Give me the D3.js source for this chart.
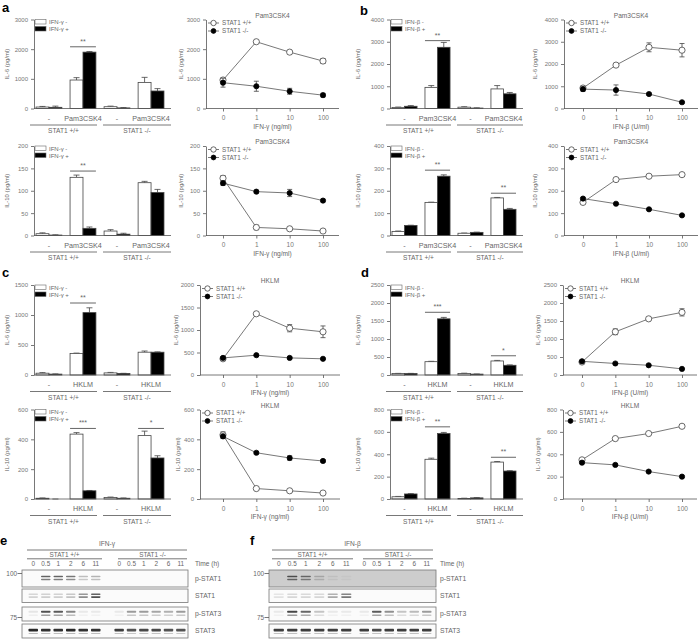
<!DOCTYPE html>
<html><head><meta charset="utf-8">
<script src="https://cdn.jsdelivr.net/npm/d3@7"></script>
<style>body{margin:0;background:#fff}svg{display:block}</style>
</head><body><svg id="fig" width="700" height="640"></svg>
<script>
// ---------------- DATA ----------------
const groupsPam = ["-", "Pam3CSK4", "-", "Pam3CSK4"];
const groupsHKLM = ["-", "HKLM", "-", "HKLM"];
const genotypes = ["STAT1 +/+", "STAT1 -/-"];
const doses = ["0", "1", "10", "100"];
const lineLegend = ["STAT1 +/+", "STAT1 -/-"];
const legendG = ["IFN-\u03b3 -", "IFN-\u03b3 +"];
const legendB = ["IFN-\u03b2 -", "IFN-\u03b2 +"];

// panel a
const aIL6Minus = [50, 960, 60, 880], aIL6MinusSd = [20, 80, 20, 170];
const aIL6Plus = [40, 1900, 20, 590], aIL6PlusSd = [40, 20, 10, 80];
const aIL10Minus = [4, 130, 10, 118], aIL10MinusSd = [2, 5, 3, 3];
const aIL10Plus = [1, 16, 3, 96], aIL10PlusSd = [0.5, 3, 2, 7];
const aIL6LineWT = [960, 2250, 1900, 1600], aIL6LineWTSd = [60, 40, 50, 80];
const aIL6LineKO = [870, 750, 580, 450], aIL6LineKOSd = [150, 170, 100, 60];
const aIL10LineWT = [128, 18, 15, 10], aIL10LineWTSd = [6, 5, 2, 2];
const aIL10LineKO = [117, 98, 95, 78], aIL10LineKOSd = [5, 3, 8, 3];
// panel b
const bIL6Minus = [50, 950, 60, 880], bIL6MinusSd = [15, 80, 20, 150];
const bIL6Plus = [100, 2750, 20, 660], bIL6PlusSd = [30, 220, 10, 60];
const bIL10Minus = [18, 148, 10, 168], bIL10MinusSd = [2, 1, 1, 2];
const bIL10Plus = [45, 265, 14, 117], bIL10PlusSd = [1, 6, 1, 4];
const bIL6LineWT = [920, 1950, 2750, 2620], bIL6LineWTSd = [80, 40, 200, 300];
const bIL6LineKO = [870, 830, 650, 280], bIL6LineKOSd = [100, 230, 50, 40];
const bIL10LineWT = [148, 250, 265, 272], bIL10LineWTSd = [6, 4, 5, 5];
const bIL10LineKO = [165, 142, 117, 90], bIL10LineKOSd = [5, 3, 4, 3];
// panel c
const cIL6Minus = [30, 360, 35, 380], cIL6MinusSd = [10, 5, 8, 20];
const cIL6Plus = [15, 1040, 25, 380], cIL6PlusSd = [3, 80, 3, 5];
const cIL10Minus = [5, 435, 10, 425], cIL10MinusSd = [2, 10, 3, 30];
const cIL10Plus = [0, 55, 5, 275], cIL10PlusSd = [0, 2, 2, 15];
const cIL6LineWT = [360, 1360, 1040, 960], cIL6LineWTSd = [30, 20, 80, 130];
const cIL6LineKO = [380, 440, 380, 360], cIL6LineKOSd = [20, 15, 15, 15];
const cIL10LineWT = [430, 70, 55, 40], cIL10LineWTSd = [20, 5, 5, 5];
const cIL10LineKO = [420, 310, 275, 255], cIL10LineKOSd = [15, 8, 15, 8];
// panel d
const dIL6Minus = [40, 370, 40, 390], dIL6MinusSd = [5, 10, 10, 15];
const dIL6Plus = [40, 1560, 25, 270], dIL6PlusSd = [5, 40, 3, 10];
const dIL10Minus = [20, 355, 5, 330], dIL10MinusSd = [3, 10, 2, 5];
const dIL10Plus = [45, 585, 10, 250], dIL10PlusSd = [3, 10, 2, 3];
const dIL6LineWT = [360, 1200, 1560, 1740], dIL6LineWTSd = [40, 80, 30, 100];
const dIL6LineKO = [380, 320, 270, 170], dIL6LineKOSd = [15, 15, 15, 10];
const dIL10LineWT = [350, 540, 585, 650], dIL10LineWTSd = [10, 8, 8, 8];
const dIL10LineKO = [325, 305, 245, 200], dIL10LineKOSd = [8, 8, 8, 8];

// blots
const timeLanes = ["0", "0.5", "1", "2", "6", "11"];
const blotRows = ["p-STAT1", "STAT1", "p-STAT3", "STAT3"];
const eBlotWT = [[0, 0.75, 0.75, 0.65, 0.3, 0.35], [0.2, 0.22, 0.22, 0.28, 0.55, 0.85], [0.1, 0.8, 0.75, 0.55, 0.08, 0.08], [0.95, 0.9, 0.9, 0.95, 0.9, 0.9]];
const eBlotKO = [[0, 0, 0, 0, 0, 0], [0, 0, 0, 0, 0, 0], [0.08, 0.45, 0.45, 0.4, 0.35, 0.45], [0.85, 0.75, 0.8, 0.8, 0.75, 0.75]];
const fBlotWT = [[0, 0.8, 0.65, 0.25, 0.08, 0.04], [0.12, 0.18, 0.18, 0.18, 0.4, 0.65], [0.08, 0.85, 0.7, 0.25, 0.08, 0.08], [0.85, 0.85, 0.85, 0.85, 0.85, 0.85]];
const fBlotKO = [[0, 0, 0, 0, 0, 0], [0, 0, 0, 0, 0, 0], [0.08, 0.75, 0.5, 0.25, 0.3, 0.45], [0.85, 0.8, 0.85, 0.85, 0.85, 0.85]];
const mwMarkers = ["100", "75"];

// ---------------- DRAWING ----------------
const FONT = '"Liberation Sans", Arial, Helvetica, sans-serif';
const TXT = "#666", AX = "#555", TICK = "#777";
const svg = d3.select("#fig").attr("font-family", FONT);
svg.append("rect").attr("width", 700).attr("height", 640).attr("fill", "#fff");
const defs = svg.append("defs");
defs.append("filter").attr("id", "blur").attr("x", "-30%").attr("y", "-200%").attr("width", "160%").attr("height", "500%")
  .append("feGaussianBlur").attr("stdDeviation", 0.7);
const fmt = d3.format("d");

function styleAxis(sel) {
  sel.attr("font-family", FONT).attr("font-size", 6);
  sel.select(".domain").attr("stroke", AX).attr("stroke-width", 0.8);
  sel.selectAll(".tick line").attr("stroke", AX).attr("stroke-width", 0.8);
  sel.selectAll(".tick text").attr("fill", TICK);
}

function barChart(o) {
  const g = svg.append("g");
  const y = d3.scaleLinear().domain([0, o.max]).range([o.yBot, o.yTop]);
  const x = d3.scaleBand().domain(d3.range(o.groups.length)).range([o.ax + 1, o.xEnd - 6]).paddingInner(0.24).paddingOuter(0.03);
  const bw = x.bandwidth() / 2;
  g.append("g").attr("transform", `translate(${o.ax},0)`)
    .call(d3.axisLeft(y).tickValues(o.ticks).tickFormat(fmt).tickSize(3).tickSizeOuter(0)).call(styleAxis);
  const rows = [];
  o.groups.forEach((c, i) => {
    rows.push({ i, k: 0, v: o.minus[i], sd: o.minusSd[i] });
    rows.push({ i, k: 1, v: o.plus[i], sd: o.plusSd[i] });
  });
  const cx = d => x(d.i) + bw * d.k + bw / 2;
  const bars = g.selectAll(".bar").data(rows).join("g");
  bars.append("line").attr("x1", cx).attr("x2", cx).attr("y1", d => y(d.v)).attr("y2", d => y(d.v + d.sd))
    .attr("stroke", "#444").attr("stroke-width", 0.8);
  bars.append("line").attr("x1", d => cx(d) - 3).attr("x2", d => cx(d) + 3).attr("y1", d => y(d.v + d.sd)).attr("y2", d => y(d.v + d.sd))
    .attr("stroke", "#444").attr("stroke-width", 0.8);
  bars.append("rect").attr("x", d => x(d.i) + bw * d.k).attr("y", d => y(d.v)).attr("width", bw)
    .attr("height", d => y(0) - y(d.v)).attr("fill", d => d.k ? "#000" : "#fff").attr("stroke", "#444").attr("stroke-width", 0.8);
  g.append("line").attr("x1", o.ax).attr("x2", o.xEnd).attr("y1", y(0)).attr("y2", y(0)).attr("stroke", AX).attr("stroke-width", 0.8);
  g.selectAll(".cat").data(o.groups).join("text").attr("x", (d, i) => x(i) + x.bandwidth() / 2).attr("y", o.yBot + 12)
    .attr("text-anchor", "middle").attr("font-size", 7.2).attr("fill", TXT).text(d => d);
  const mid = (x(1) + x.bandwidth() + x(2)) / 2;
  const spans = [[o.ax - 4, mid - 3], [mid + 3, o.xEnd]];
  g.selectAll(".gl").data(spans).join("line").attr("x1", d => d[0]).attr("x2", d => d[1])
    .attr("y1", o.yBot + 16.5).attr("y2", o.yBot + 16.5).attr("stroke", "#555").attr("stroke-width", 0.8);
  g.selectAll(".gt").data(spans).join("text").attr("x", d => (d[0] + d[1]) / 2).attr("y", o.yBot + 24.5)
    .attr("text-anchor", "middle").attr("font-size", 6.6).attr("fill", TXT).text((d, j) => genotypes[j]);
  o.legend.forEach((t, k) => {
    g.append("rect").attr("x", o.ax + 1).attr("y", o.yTop + k * 7).attr("width", 11).attr("height", 4.5)
      .attr("fill", k ? "#000" : "#fff").attr("stroke", "#666").attr("stroke-width", 0.6);
    g.append("text").attr("x", o.ax + 15).attr("y", o.yTop + 4.6 + k * 7).attr("font-size", 6).attr("fill", TXT).text(t);
  });
  g.append("text").attr("transform", `translate(${o.ylx},${(o.yTop + o.yBot) / 2}) rotate(-90)`)
    .attr("text-anchor", "middle").attr("font-size", 6).attr("fill", TXT).text(o.ylabel);
  o.sig.forEach(s => {
    g.append("line").attr("x1", x(s.g)).attr("x2", x(s.g) + x.bandwidth()).attr("y1", y(s.v)).attr("y2", y(s.v))
      .attr("stroke", "#555").attr("stroke-width", 0.9);
    g.append("text").attr("x", x(s.g) + x.bandwidth() / 2).attr("y", y(s.v) - 3).attr("text-anchor", "middle")
      .attr("font-size", 7).attr("fill", TXT).text(s.t);
  });
}

function lineChart(o) {
  const g = svg.append("g");
  const y = d3.scaleLinear().domain([0, o.max]).range([o.yBot, o.yTop]);
  const x = d3.scalePoint().domain(doses).range([o.p0, o.p3]);
  g.append("g").attr("transform", `translate(${o.ax},0)`)
    .call(d3.axisLeft(y).tickValues(o.ticks).tickFormat(fmt).tickSize(3).tickSizeOuter(0)).call(styleAxis);
  const xa = g.append("g").attr("transform", `translate(0,${o.yBot})`)
    .call(d3.axisBottom(x).tickSize(3).tickSizeOuter(0)).call(styleAxis);
  xa.select(".domain").remove();
  xa.selectAll(".tick text").attr("font-size", 6.5).attr("dy", "0.9em");
  g.append("line").attr("x1", o.ax).attr("x2", o.xEnd).attr("y1", o.yBot).attr("y2", o.yBot).attr("stroke", AX).attr("stroke-width", 0.8);
  g.append("text").attr("x", (o.ax + o.xEnd) / 2).attr("y", o.yBot + 20).attr("text-anchor", "middle")
    .attr("font-size", 6.6).attr("fill", TXT).text(o.xlabel);
  g.append("text").attr("x", (o.ax + o.xEnd) / 2).attr("y", o.yTop - 2).attr("text-anchor", "middle")
    .attr("font-size", 6.6).attr("fill", TXT).text(o.title);
  g.append("text").attr("transform", `translate(${o.ylx},${(o.yTop + o.yBot) / 2}) rotate(-90)`)
    .attr("text-anchor", "middle").attr("font-size", 6).attr("fill", TXT).text(o.ylabel);
  const series = [
    { vals: o.wt, sd: o.wtSd, open: true },
    { vals: o.ko, sd: o.koSd, open: false }
  ];
  const line = d3.line().x((d, i) => x(doses[i])).y(d => y(d));
  series.forEach(s => {
    const sg = g.append("g");
    sg.append("path").attr("d", line(s.vals)).attr("fill", "none").attr("stroke", "#555").attr("stroke-width", 0.8);
    const pts = s.vals.map((v, i) => ({ x: x(doses[i]), v, sd: s.sd[i] }));
    const eb = sg.selectAll(".eb").data(pts).join("g");
    eb.append("line").attr("x1", d => d.x).attr("x2", d => d.x).attr("y1", d => y(d.v - d.sd)).attr("y2", d => y(d.v + d.sd))
      .attr("stroke", "#444").attr("stroke-width", 0.8);
    [-1, 1].forEach(sg2 => eb.append("line").attr("x1", d => d.x - 2.5).attr("x2", d => d.x + 2.5)
      .attr("y1", d => y(d.v + sg2 * d.sd)).attr("y2", d => y(d.v + sg2 * d.sd)).attr("stroke", "#444").attr("stroke-width", 0.8));
    sg.selectAll(".pt").data(pts).join("circle").attr("cx", d => d.x).attr("cy", d => y(d.v))
      .attr("r", s.open ? 3.1 : 2.6).attr("fill", s.open ? "#fff" : "#000").attr("stroke", s.open ? "#444" : "#000").attr("stroke-width", 0.8);
  });
  lineLegend.forEach((t, k) => {
    const ly = o.yTop + 3.5 + k * 8;
    g.append("line").attr("x1", o.ax + 2).attr("x2", o.ax + 13).attr("y1", ly).attr("y2", ly).attr("stroke", "#555").attr("stroke-width", 0.8);
    g.append("circle").attr("cx", o.ax + 7.5).attr("cy", ly).attr("r", k ? 2.4 : 2.7)
      .attr("fill", k ? "#000" : "#fff").attr("stroke", k ? "#000" : "#444").attr("stroke-width", 0.8);
    g.append("text").attr("x", o.ax + 16).attr("y", ly + 2.2).attr("font-size", 6.3).attr("fill", TXT).text(t);
  });
}

const R1 = { yTop: 19.5, yBot: 108.5 }, R2 = { yTop: 146, yBot: 235.5 }, R3 = { yTop: 285, yBot: 375 }, R4 = { yTop: 409.5, yBot: 499 };
const L = { ax: 34, xEnd: 171, ylx: 9 }, Lb = { ax: 390, xEnd: 523, ylx: 360 };

// a
barChart({ ...L, ...R1, max: 3000, ticks: [0, 1000, 2000, 3000], groups: groupsPam, minus: aIL6Minus, minusSd: aIL6MinusSd, plus: aIL6Plus, plusSd: aIL6PlusSd, ylabel: "IL-6 (pg/ml)", legend: legendG, sig: [{ g: 1, v: 2080, t: "**" }] });
barChart({ ...L, ...R2, max: 200, ticks: [0, 50, 100, 150, 200], groups: groupsPam, minus: aIL10Minus, minusSd: aIL10MinusSd, plus: aIL10Plus, plusSd: aIL10PlusSd, ylabel: "IL-10 (pg/ml)", legend: legendG, sig: [{ g: 1, v: 144, t: "**" }] });
lineChart({ ax: 206, xEnd: 339, p0: 223, p3: 323, ylx: 183, ...R1, max: 3000, ticks: [0, 1000, 2000, 3000], wt: aIL6LineWT, wtSd: aIL6LineWTSd, ko: aIL6LineKO, koSd: aIL6LineKOSd, title: "Pam3CSK4", xlabel: "IFN-\u03b3 (ng/ml)", ylabel: "IL-6 (pg/ml)" });
lineChart({ ax: 206, xEnd: 339, p0: 223, p3: 323, ylx: 183, ...R2, max: 200, ticks: [0, 50, 100, 150, 200], wt: aIL10LineWT, wtSd: aIL10LineWTSd, ko: aIL10LineKO, koSd: aIL10LineKOSd, title: "Pam3CSK4", xlabel: "IFN-\u03b3 (ng/ml)", ylabel: "IL-10 (pg/ml)" });
// b
barChart({ ...Lb, ...R1, max: 4000, ticks: [0, 1000, 2000, 3000, 4000], groups: groupsPam, minus: bIL6Minus, minusSd: bIL6MinusSd, plus: bIL6Plus, plusSd: bIL6PlusSd, ylabel: "IL-6 (pg/ml)", legend: legendB, sig: [{ g: 1, v: 3050, t: "**" }] });
barChart({ ...Lb, ...R2, max: 400, ticks: [0, 100, 200, 300, 400], groups: groupsPam, minus: bIL10Minus, minusSd: bIL10MinusSd, plus: bIL10Plus, plusSd: bIL10PlusSd, ylabel: "IL-10 (pg/ml)", legend: legendB, sig: [{ g: 1, v: 292, t: "**" }, { g: 3, v: 189, t: "**" }] });
lineChart({ ax: 564, xEnd: 698, p0: 583, p3: 682, ylx: 537, ...R1, max: 4000, ticks: [0, 1000, 2000, 3000, 4000], wt: bIL6LineWT, wtSd: bIL6LineWTSd, ko: bIL6LineKO, koSd: bIL6LineKOSd, title: "Pam3CSK4", xlabel: "IFN-\u03b2 (U/ml)", ylabel: "IL-6 (pg/ml)" });
lineChart({ ax: 564, xEnd: 698, p0: 583, p3: 682, ylx: 537, ...R2, max: 400, ticks: [0, 100, 200, 300, 400], wt: bIL10LineWT, wtSd: bIL10LineWTSd, ko: bIL10LineKO, koSd: bIL10LineKOSd, title: "Pam3CSK4", xlabel: "IFN-\u03b2 (U/ml)", ylabel: "IL-10 (pg/ml)" });
// c
barChart({ ...L, ...R3, max: 1500, ticks: [0, 500, 1000, 1500], groups: groupsHKLM, minus: cIL6Minus, minusSd: cIL6MinusSd, plus: cIL6Plus, plusSd: cIL6PlusSd, ylabel: "IL-6 (pg/ml)", legend: legendG, sig: [{ g: 1, v: 1200, t: "**" }] });
barChart({ ...L, ...R4, max: 600, ticks: [0, 200, 400, 600], groups: groupsHKLM, minus: cIL10Minus, minusSd: cIL10MinusSd, plus: cIL10Plus, plusSd: cIL10PlusSd, ylabel: "IL-10 (pg/ml)", legend: legendG, sig: [{ g: 1, v: 473, t: "***" }, { g: 3, v: 473, t: "*" }] });
lineChart({ ax: 200, xEnd: 340, p0: 223, p3: 323, ylx: 178, ...R3, max: 2000, ticks: [0, 500, 1000, 1500, 2000], wt: cIL6LineWT, wtSd: cIL6LineWTSd, ko: cIL6LineKO, koSd: cIL6LineKOSd, title: "HKLM", xlabel: "IFN-\u03b3 (ng/ml)", ylabel: "IL-6 (pg/ml)" });
lineChart({ ax: 200, xEnd: 340, p0: 223, p3: 323, ylx: 180, ...R4, max: 600, ticks: [0, 200, 400, 600], wt: cIL10LineWT, wtSd: cIL10LineWTSd, ko: cIL10LineKO, koSd: cIL10LineKOSd, title: "HKLM", xlabel: "IFN-\u03b3 (ng/ml)", ylabel: "IL-10 (pg/ml)" });
// d
barChart({ ...Lb, ...R3, max: 2500, ticks: [0, 500, 1000, 1500, 2000, 2500], groups: groupsHKLM, minus: dIL6Minus, minusSd: dIL6MinusSd, plus: dIL6Plus, plusSd: dIL6PlusSd, ylabel: "IL-6 (pg/ml)", legend: legendB, sig: [{ g: 1, v: 1742, t: "***" }, { g: 3, v: 534, t: "*" }] });
barChart({ ...Lb, ...R4, max: 800, ticks: [0, 200, 400, 600, 800], groups: groupsHKLM, minus: dIL10Minus, minusSd: dIL10MinusSd, plus: dIL10Plus, plusSd: dIL10PlusSd, ylabel: "IL-10 (pg/ml)", legend: legendB, sig: [{ g: 1, v: 645, t: "**" }, { g: 3, v: 373, t: "**" }] });
lineChart({ ax: 563, xEnd: 697, p0: 582, p3: 682, ylx: 540, ...R3, max: 2500, ticks: [0, 500, 1000, 1500, 2000, 2500], wt: dIL6LineWT, wtSd: dIL6LineWTSd, ko: dIL6LineKO, koSd: dIL6LineKOSd, title: "HKLM", xlabel: "IFN-\u03b2 (U/ml)", ylabel: "IL-6 (pg/ml)" });
lineChart({ ax: 563, xEnd: 697, p0: 582, p3: 682, ylx: 540, ...R4, max: 800, ticks: [0, 200, 400, 600, 800], wt: dIL10LineWT, wtSd: dIL10LineWTSd, ko: dIL10LineKO, koSd: dIL10LineKOSd, title: "HKLM", xlabel: "IFN-\u03b2 (U/ml)", ylabel: "IL-10 (pg/ml)" });

// blots
function blot(o) {
  const g = svg.append("g");
  const xw = d3.scaleBand().domain(timeLanes).range(o.wtRange);
  const xk = d3.scaleBand().domain(timeLanes).range(o.koRange);
  const hx0 = o.wtRange[0], hx1 = o.koRange[1];
  g.append("text").attr("x", (hx0 + hx1) / 2).attr("y", 546).attr("text-anchor", "middle").attr("font-size", 6.6).attr("fill", TXT).text(o.header);
  g.append("line").attr("x1", hx0).attr("x2", hx1).attr("y1", 550).attr("y2", 550).attr("stroke", "#555").attr("stroke-width", 0.8);
  [[o.wtRange[0], o.wtRange[1]], [o.koRange[0] + 5, o.koRange[1]]].forEach((r, j) => {
    g.append("text").attr("x", (r[0] + r[1]) / 2).attr("y", 556.8).attr("text-anchor", "middle").attr("font-size", 6.4).attr("fill", TXT).text(genotypes[j]);
    g.append("line").attr("x1", r[0]).attr("x2", r[1]).attr("y1", 558.8).attr("y2", 558.8).attr("stroke", "#555").attr("stroke-width", 0.8);
  });
  [xw, xk].forEach(sc => {
    g.selectAll(null).data(timeLanes).join("text").attr("x", d => sc(d) + sc.bandwidth() / 2).attr("y", 565.5)
      .attr("text-anchor", "middle").attr("font-size", 6.4).attr("fill", TXT).text(d => d);
  });
  g.append("text").attr("x", o.labX).attr("y", 565.5).attr("font-size", 6.6).attr("fill", TXT).text("Time (h)");
  const strips = [[570, 587], [589, 602.5], [607, 621], [624, 638]];
  strips.forEach((s, r) => {
    g.append("rect").attr("x", o.box[0]).attr("y", s[0]).attr("width", o.box[1] - o.box[0]).attr("height", s[1] - s[0])
      .attr("fill", (o.greyRow === r) ? "#cdcdcd" : "#fbfbfb").attr("stroke", "#777").attr("stroke-width", 0.8);
    g.append("text").attr("x", o.labX).attr("y", (s[0] + s[1]) / 2 + 2.3).attr("font-size", 6.8).attr("fill", TXT).text(blotRows[r]);
    const layout = [
      [[5.8, 1.5, 0.9], [8.8, 1.5, 0.75]],
      [[4.5, 1.4, 0.8], [7.3, 1.6, 0.9]],
      [[3.8, 1.9, 0.95], [7.6, 1.3, 0.5]],
      [[4.8, 2.8, 1], [9.0, 1.1, 0.3]]
    ][r];
    [[xw, o.wt[r]], [xk, o.ko[r]]].forEach(([sc, vals]) => {
      const bands = [];
      vals.forEach((v, i) => layout.forEach(l => { if (v > 0) bands.push({ lane: timeLanes[i], v: v * l[2], dy: l[0], h: l[1] }); }));
      g.selectAll(null).data(bands).join("rect")
        .attr("x", d => sc(d.lane) + sc.bandwidth() * 0.12).attr("width", sc.bandwidth() * 0.76)
        .attr("y", d => s[0] + d.dy).attr("height", d => d.h).attr("rx", 0.8)
        .attr("fill", "#1a1a1a").attr("opacity", d => Math.min(1, d.v)).attr("filter", "url(#blur)");
    });
  });
  const mw = [[573.5, mwMarkers[0]], [617.5, mwMarkers[1]]];
  mw.forEach(([yy, t]) => {
    g.append("text").attr("x", o.box[0] - 5).attr("y", yy + 2).attr("text-anchor", "end").attr("font-size", 6.4).attr("fill", TXT).text(t);
    g.append("line").attr("x1", o.box[0] - 4.5).attr("x2", o.box[0]).attr("y1", yy).attr("y2", yy).attr("stroke", "#555").attr("stroke-width", 0.8);
  });
}
blot({ header: "IFN-\u03b3", wtRange: [27, 102], koRange: [113, 187], box: [22, 188], labX: 195, wt: eBlotWT, ko: eBlotKO, greyRow: -1 });
blot({ header: "IFN-\u03b2", wtRange: [272, 353], koRange: [358, 433], box: [269, 436], labX: 440, wt: fBlotWT, ko: fBlotKO, greyRow: 0 });

// panel letters
const letters = [["a", 2, 12], ["b", 360, 15], ["c", 2, 277], ["d", 361, 277], ["e", 0, 545], ["f", 250, 545]];
svg.selectAll(".lt").data(letters).join("text").attr("x", d => d[1]).attr("y", d => d[2])
  .attr("font-size", 13).attr("font-weight", "bold").attr("fill", "#000").text(d => d[0]);
</script></body></html>
